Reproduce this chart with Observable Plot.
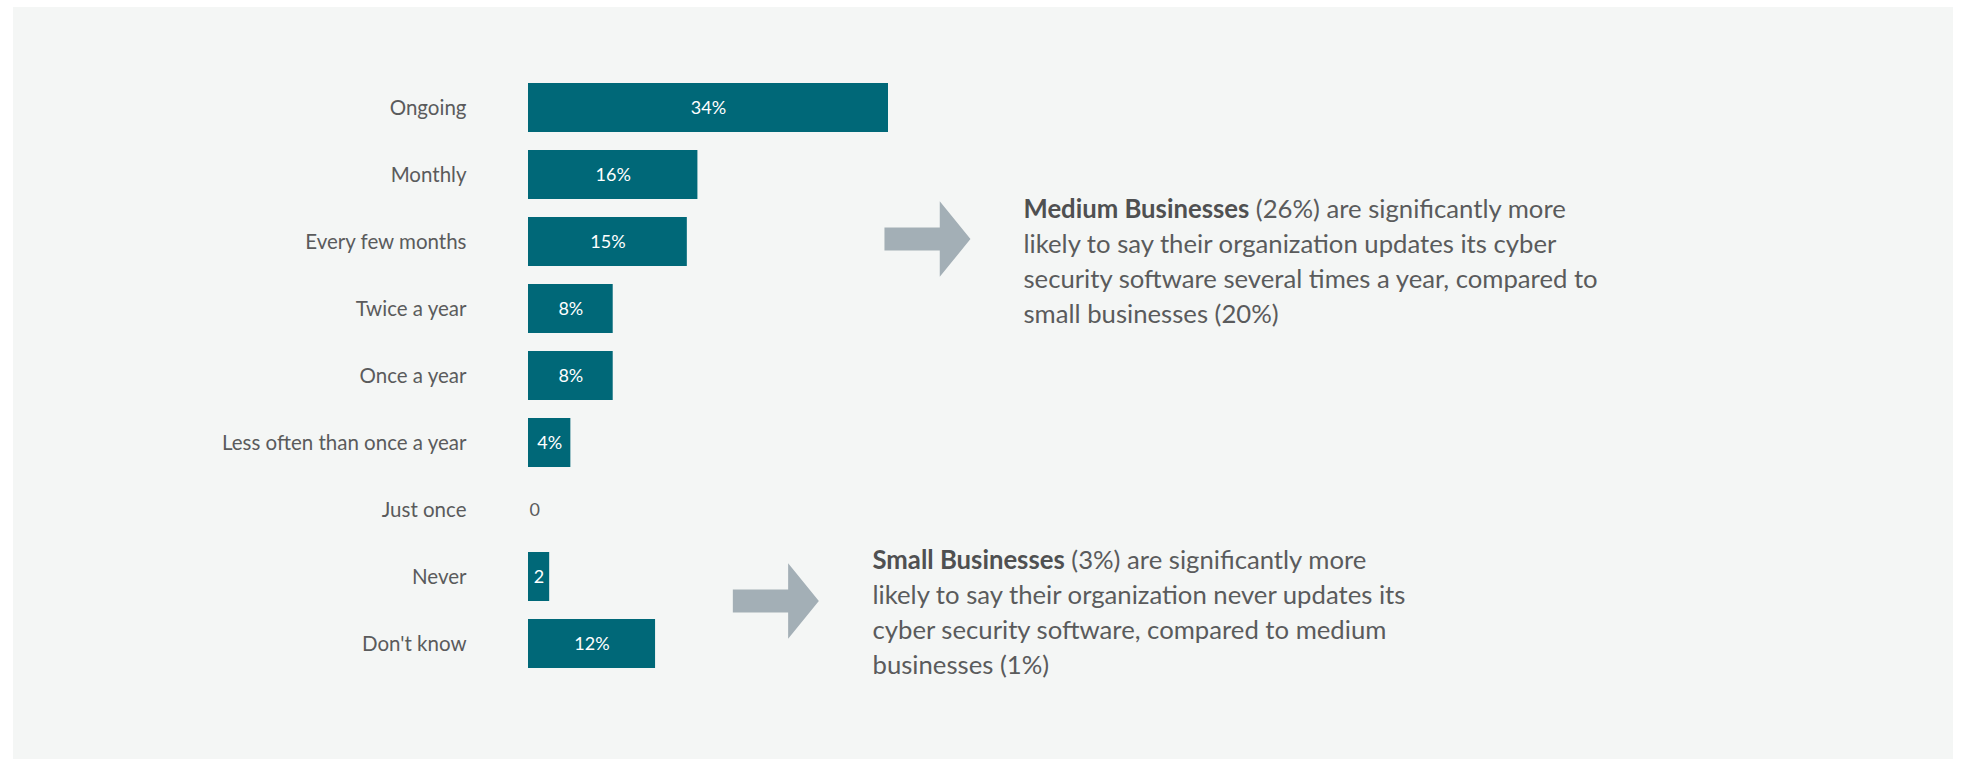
<!DOCTYPE html>
<html><head><meta charset="utf-8">
<script src="https://cdn.jsdelivr.net/npm/d3@7"></script>
<script src="https://cdn.jsdelivr.net/npm/@observablehq/plot@0.6"></script>
<style>
body{margin:0;background:#fff;}
#wrap{position:relative;width:1964px;height:759px;overflow:hidden;}
#panel{position:absolute;left:13px;top:7px;width:1940px;height:752px;background:#f4f6f5;}
#chart{position:absolute;left:0;top:0;}
</style></head><body>
<div id="wrap"><div id="panel"></div><div id="chart"></div></div>
<script>
// ---- data ----
const categories = ["Ongoing","Monthly","Every few months","Twice a year","Once a year","Less often than once a year","Just once","Never","Don't know"];
const values = [34,16,15,8,8,4,0,2,12];
const valueLabels = ["34%","16%","15%","8%","8%","4%","0","2","12%"];
const note1Lead = "Medium Businesses";
const note1Lines = ["Medium Businesses (26%) are significantly more","likely to say their organization updates its cyber","security software several times a year, compared to","small businesses (20%)"];
const note2Lead = "Small Businesses";
const note2Lines = ["Small Businesses (3%) are significantly more","likely to say their organization never updates its","cyber security software, compared to medium","businesses (1%)"];

const rows = categories.map((c,i)=>({category:c, value:values[i], label:valueLabels[i]}));

// ---- style ----
const teal = "#006878", grey = "#5a5b5c", arrowGrey = "#a3afb6";
const fontFamily = "Lato, 'Open Sans', sans-serif";
const annFont = 25.7, annLine = 35;

// block-arrow symbol (sized by r = half length)
const blockArrow = {
  draw(ctx, size) {
    const r = Math.sqrt(size/Math.PI);
    const sh = 0.267*r, hh = 0.88*r, hb = 0.286*r;
    ctx.moveTo(-r,-sh); ctx.lineTo(hb,-sh); ctx.lineTo(hb,-hh); ctx.lineTo(r,0);
    ctx.lineTo(hb,hh); ctx.lineTo(hb,sh); ctx.lineTo(-r,sh); ctx.closePath();
  }
};

const notes = [
  {lines: note1Lines, lead: note1Lead, textX: 46.75, arrowX: 37.68, cat: "Every few months", arrowDy: -3, textDy: -49},
  {lines: note2Lines, lead: note2Lead, textX: 32.49, arrowX: 23.36, cat: "Never", arrowDy: 24, textDy: -32.5}
];

const chart = Plot.plot({
  width: 1964,
  height: 759,
  marginLeft: 528,
  marginRight: 1964-888,
  marginTop: 72,
  marginBottom: 759-679.5,
  style: `background: transparent; font-family: ${fontFamily}; color: ${grey}; overflow: visible;`,
  x: {domain: [0, 34], axis: null},
  y: {domain: categories, paddingInner: 0.27, paddingOuter: 0.135, label: null},
  marks: [
    Plot.axisY({tickSize: 0, tickPadding: 62, fontSize: 20.5, label: null, fill: grey}),
    Plot.barX(rows, {x: "value", y: "category", fill: teal}),
    Plot.text(rows.filter(d=>d.value>0), {x: d=>d.value/2, y: "category", text: "label", fill: "white", fontSize: 18}),
    Plot.text(rows.filter(d=>d.value===0), {x: "value", y: "category", text: "label", fill: grey, fontSize: 18, textAnchor: "start", dx: 1}),
    ...notes.map(n => Plot.dot([n], {x: "arrowX", y: "cat", dy: n.arrowDy, r: 43, symbol: blockArrow, fill: arrowGrey, stroke: null})),
    ...notes.map(n => Plot.text([n], {x: "textX", y: "cat", dy: n.textDy, text: d=>d.lines.join("\n"), lineAnchor: "top", textAnchor: "start", lineHeight: annLine/annFont, fontSize: annFont, fill: grey}))
  ]
});

// bold lead words of each note
d3.select(chart).selectAll("text, tspan").each(function(){
  if (this.children.length) return;
  const t = this.textContent;
  const n = notes.find(n => t.startsWith(n.lead));
  if (!n) return;
  const el = d3.select(this);
  el.text(null);
  el.append("tspan").attr("font-weight", "bold").attr("fill", "#4f5051").text(n.lead);
  el.append("tspan").text(t.slice(n.lead.length));
});

document.getElementById("chart").appendChild(chart);
</script>
</body></html>
